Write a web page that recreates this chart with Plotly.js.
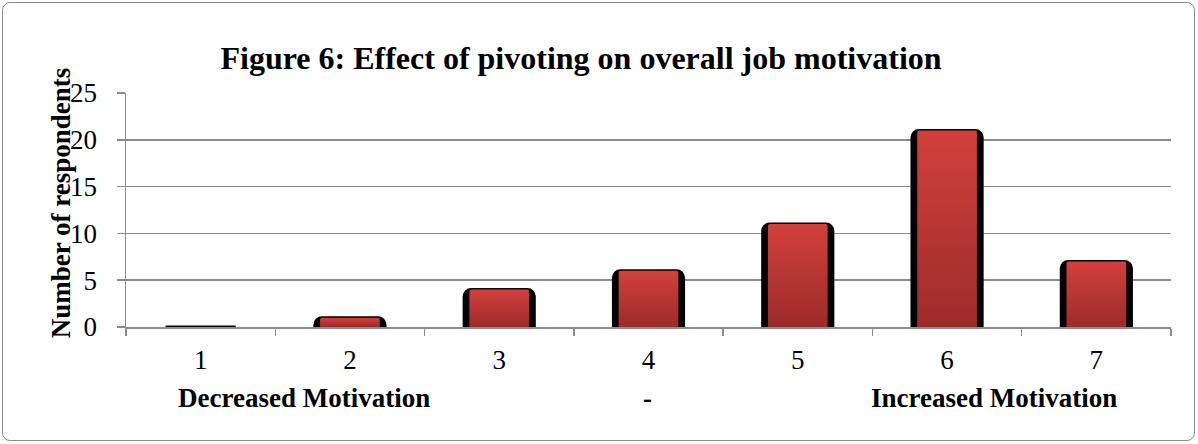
<!DOCTYPE html>
<html>
<head>
<meta charset="utf-8">
<script src="https://cdn.plot.ly/plotly-3.0.1.min.js"></script>
<style>
  html, body { margin: 0; padding: 0; background: #fff; }
  #wrap { position: relative; width: 1198px; height: 444px; }
  #chart { width: 1198px; height: 444px; }
  #frame { position: absolute; left: 2px; top: 2px; width: 1191px; height: 437px;
           border: 1.5px solid #8c8c8c; border-radius: 8px; pointer-events: none; }
</style>
</head>
<body>
<div id="wrap">
  <div id="chart"></div>
  <div id="frame"></div>
</div>
<script>
// ---- data ----
const categories = ['1', '2', '3', '4', '5', '6', '7'];
const respondents = [0, 1, 4, 6, 11, 21, 7];
const yTickValues = [0, 5, 10, 15, 20, 25];
const chartTitle = 'Figure 6: Effect of pivoting on overall job motivation';
const yAxisTitle = 'Number of respondents';
const scaleLabels = ['Decreased Motivation', '-', 'Increased Motivation'];

const serif = 'Liberation Serif, Times New Roman, serif';
const gridGray = '#8c8c8c';

const shadowTrace = {
  type: 'bar', x: categories, y: respondents, width: 0.47,
  marker: { color: '#000000', cornerradius: 7, line: { color: '#000000', width: 3 } },
  hoverinfo: 'skip', showlegend: false
};
const redTrace = {
  type: 'bar', x: categories, y: respondents, width: 0.4,
  marker: { color: '#bd3533', cornerradius: 2, line: { width: 0 } },
  showlegend: false
};

const layout = {
  width: 1198, height: 444,
  margin: { l: 126, r: 27, t: 93, b: 117 },
  paper_bgcolor: '#ffffff', plot_bgcolor: '#ffffff',
  barmode: 'overlay',
  font: { family: serif, color: '#000000' },
  title: {
    text: '<b>' + chartTitle + '</b>',
    font: { family: serif, size: 32, color: '#000000' },
    xref: 'container', x: 0.485, xanchor: 'center',
    yref: 'container', y: 0.869, yanchor: 'middle'
  },
  xaxis: {
    type: 'category',
    showline: true, linecolor: gridGray, linewidth: 1.5,
    ticks: 'outside', tickson: 'boundaries', ticklen: 7, tickcolor: gridGray, tickwidth: 1.5,
    tickfont: { family: serif, size: 27, color: '#000000' },
    ticklabelstandoff: 8,
    showgrid: false, zeroline: false, fixedrange: true
  },
  yaxis: {
    range: [0, 25], tickvals: yTickValues,
    showline: true, linecolor: gridGray, linewidth: 1.5,
    ticks: 'outside', ticklen: 8, tickcolor: gridGray, tickwidth: 1.5,
    tickfont: { family: serif, size: 27, color: '#000000' },
    ticklabelstandoff: 14,
    showgrid: true, gridcolor: gridGray, gridwidth: 1.5,
    zeroline: false, fixedrange: true
  },
  annotations: [
    { text: '<b>' + yAxisTitle + '</b>', textangle: -90, xref: 'paper', yref: 'paper',
      x: -0.062, y: 0.53, xanchor: 'center', yanchor: 'middle', showarrow: false,
      font: { family: serif, size: 27, color: '#000000' } },
    { text: '<b>' + scaleLabels[0] + '</b>', xref: 'paper', yref: 'paper',
      x: 0.1708, y: -0.303, xanchor: 'center', yanchor: 'middle', showarrow: false,
      font: { family: serif, size: 27, color: '#000000' } },
    { text: '<b>' + scaleLabels[1] + '</b>', xref: 'paper', yref: 'paper',
      x: 0.4995, y: -0.303, xanchor: 'center', yanchor: 'middle', showarrow: false,
      font: { family: serif, size: 27, color: '#000000' } },
    { text: '<b>' + scaleLabels[2] + '</b>', xref: 'paper', yref: 'paper',
      x: 0.8306, y: -0.303, xanchor: 'center', yanchor: 'middle', showarrow: false,
      font: { family: serif, size: 27, color: '#000000' } }
  ]
};

Plotly.newPlot('chart', [shadowTrace, redTrace], layout, { staticPlot: true, displayModeBar: false })
  .then(function (gd) {
    // vertical red gradient on the inner bars
    const svg = gd.querySelector('svg.main-svg');
    let defs = svg.querySelector('defs');
    const ns = 'http://www.w3.org/2000/svg';
    if (!defs) { defs = document.createElementNS(ns, 'defs'); svg.insertBefore(defs, svg.firstChild); }
    const grad = document.createElementNS(ns, 'linearGradient');
    grad.setAttribute('id', 'redgrad');
    grad.setAttribute('x1', '0'); grad.setAttribute('y1', '0');
    grad.setAttribute('x2', '0'); grad.setAttribute('y2', '1');
    [['0', '#d2403d'], ['1', '#9c2b29']].forEach(function (s) {
      const st = document.createElementNS(ns, 'stop');
      st.setAttribute('offset', s[0]); st.setAttribute('stop-color', s[1]);
      grad.appendChild(st);
    });
    defs.appendChild(grad);
    const traces = gd.querySelectorAll('.barlayer .trace');
    if (traces.length > 1) {
      traces[1].querySelectorAll('path').forEach(function (p) { p.style.fill = 'url(#redgrad)'; });
    }
  });
</script>
</body>
</html>
